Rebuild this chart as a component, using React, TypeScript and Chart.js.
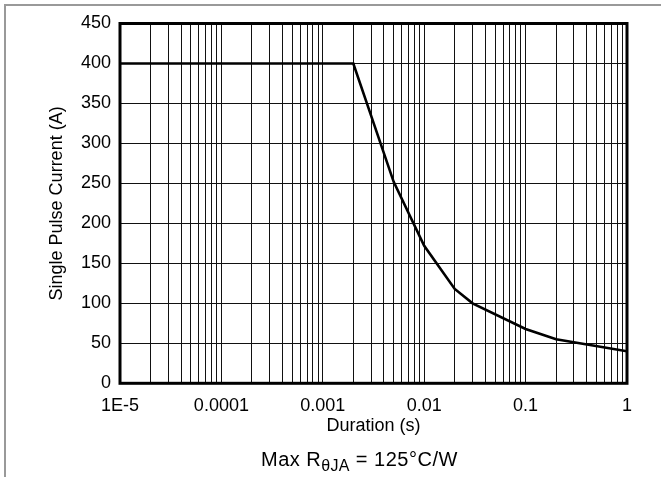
import React, { useEffect, useRef } from "react";
import { Chart, registerables } from "chart.js";

Chart.register(...registerables);

// ---- data ----
const durations = [1e-5, 0.002, 0.005, 0.01, 0.02, 0.03, 0.1, 0.2, 1];
const currents = [400, 400, 252, 172, 118, 100, 68, 55, 40];

const xDecades = [1e-5, 1e-4, 1e-3, 1e-2, 1e-1, 1];
const xDecadeLabels = ["1E-5", "0.0001", "0.001", "0.01", "0.1", "1"];
const xMinorSteps = [1, 2, 3, 4, 5, 6, 7, 8, 9];
const yTicks = [0, 50, 100, 150, 200, 250, 300, 350, 400, 450];

const FONT = '"Liberation Sans", Arial, Helvetica, sans-serif';

function buildXTicks() {
  const ticks: { value: number; major: boolean }[] = [];
  for (let i = 0; i < xDecades.length - 1; i++) {
    for (const m of xMinorSteps) {
      ticks.push({ value: Number((xDecades[i] * m).toPrecision(6)), major: m === 1 });
    }
  }
  ticks.push({ value: xDecades[xDecades.length - 1], major: true });
  return ticks;
}

function xLabel(v: number) {
  for (let i = 0; i < xDecades.length; i++) {
    if (Math.abs(v - xDecades[i]) / xDecades[i] < 1e-6) return xDecadeLabels[i];
  }
  return "";
}

const framePlugin = {
  id: "plotFrame",
  afterDraw(chart: any) {
    const { ctx, chartArea } = chart;
    ctx.save();
    ctx.strokeStyle = "#000";
    ctx.lineWidth = 3;
    ctx.strokeRect(
      chartArea.left,
      chartArea.top,
      chartArea.right - chartArea.left,
      chartArea.bottom - chartArea.top
    );
    ctx.restore();
  },
};

export default function App() {
  const ref = useRef<HTMLCanvasElement | null>(null);

  useEffect(() => {
    if (!ref.current) return;
    const chart = new Chart(ref.current, {
      type: "line",
      data: {
        datasets: [
          {
            data: durations.map((d, i) => ({ x: d, y: currents[i] })),
            borderColor: "#000",
            borderWidth: 2.6,
            pointRadius: 0,
            tension: 0,
            fill: false,
          },
        ],
      },
      options: {
        responsive: false,
        animation: false,
        devicePixelRatio: 1,
        layout: { padding: { left: 0, right: 34, top: 23.5, bottom: 40 } },
        plugins: {
          legend: { display: false },
          tooltip: { enabled: false },
          title: { display: false },
        },
        scales: {
          x: {
            type: "logarithmic",
            min: 1e-5,
            max: 1,
            afterBuildTicks: (scale: any) => {
              scale.ticks = buildXTicks();
            },
            afterFit: (scale: any) => {
              scale.height = 53.7;
            },
            ticks: {
              autoSkip: false,
              maxRotation: 0,
              minRotation: 0,
              padding: 12,
              color: "#000",
              font: { family: FONT, size: 18 },
              callback: (v: any) => xLabel(Number(v)),
            },
            grid: { color: "#111", lineWidth: 1, drawTicks: false },
            border: { display: false },
            title: {
              display: true,
              text: "Duration (s)",
              color: "#000",
              font: { family: FONT, size: 18 },
              padding: { top: 0, bottom: 0 },
            },
          },
          y: {
            type: "linear",
            min: 0,
            max: 450,
            afterBuildTicks: (scale: any) => {
              scale.ticks = yTicks.map((v) => ({ value: v }));
            },
            afterFit: (scale: any) => {
              scale.width = 120;
            },
            ticks: {
              padding: 9,
              color: "#000",
              font: { family: FONT, size: 18 },
              callback: (v: any) => String(v),
            },
            grid: { color: "#111", lineWidth: 1, drawTicks: false },
            border: { display: false },
            title: {
              display: true,
              text: "Single Pulse Current (A)",
              color: "#000",
              font: { family: FONT, size: 18 },
              padding: { top: 46, bottom: 0 },
            },
          },
        },
      },
      plugins: [framePlugin],
    } as any);
    return () => chart.destroy();
  }, []);

  return (
    <div
      style={{
        position: "absolute",
        left: 0,
        top: 0,
        width: 661,
        height: 477,
        background: "#fff",
        overflow: "hidden",
      }}
    >
      <div
        style={{
          position: "absolute",
          left: 4,
          top: 4,
          right: 0,
          bottom: 0,
          borderTop: "2px solid #999",
          borderLeft: "2px solid #999",
        }}
      />
      <canvas ref={ref} width={661} height={477} style={{ position: "absolute", left: 0, top: 0 }} />
      <div
        style={{
          position: "absolute",
          left: 261,
          top: 449,
          fontFamily: FONT,
          fontSize: 20,
          lineHeight: "20px",
          letterSpacing: 0.5,
          color: "#000",
          whiteSpace: "nowrap",
        }}
      >
        Max R
        <span style={{ fontSize: 16, position: "relative", top: 5, letterSpacing: 0.3 }}>θJA</span> = 125°C/W
      </div>
    </div>
  );
}
